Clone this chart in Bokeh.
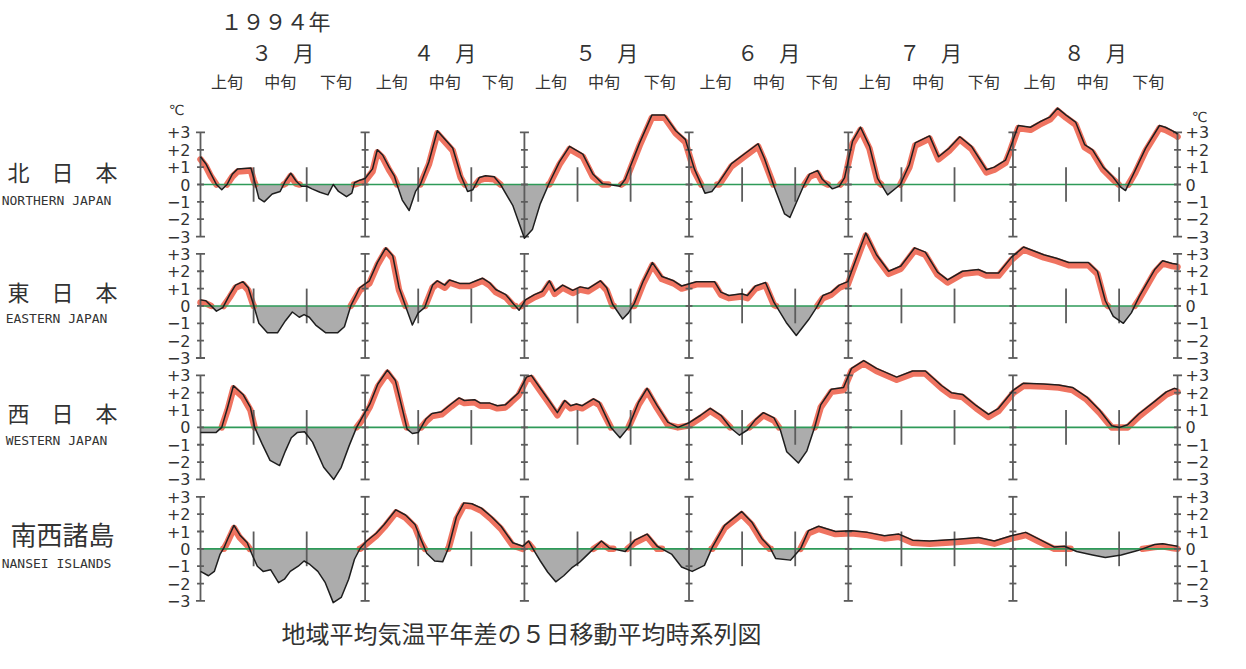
import numpy as np
from bokeh.plotting import figure
from bokeh.models import Range1d
from bokeh.core.properties import value
from bokeh.embed import file_html
from bokeh.resources import INLINE

# ---------------- data ----------------
year_label = "１９９４年"
months = ["３　月", "４　月", "５　月", "６　月", "７　月", "８　月"]
month_days = [31, 30, 31, 30, 31, 31]
dekads = ["上旬", "中旬", "下旬"]
regions_ja = ["北　日　本", "東　日　本", "西　日　本", "南西諸島"]
regions_en = ["NORTHERN JAPAN", "EASTERN JAPAN", "WESTERN JAPAN", "NANSEI ISLANDS"]
y_ticks = [3, 2, 1, 0, -1, -2, -3]
y_tick_labels = ["+3", "+2", "+1", "0", "−1", "−2", "−3"]
unit_label = "℃"
caption = "地域平均気温平年差の５日移動平均時系列図"

# day index from 1 March (0) to 31 August (184), temperature anomaly (deg C)
north_day = [0, 1, 2, 3, 4, 5, 6, 7, 9.5, 10, 11, 12, 13.5, 15, 16, 17, 18, 19, 20, 21,
             22.5, 24, 25, 26, 27.5, 28.5, 29, 30, 31, 32.4, 33.3, 34.3, 35.5, 36.5, 37, 38,
             39.3, 40.5, 41.4, 43, 44.6, 47.5, 49, 50.3, 51.3, 52.5, 53.7, 55.3, 56.5, 58.8,
             61, 62.5, 64, 65.7, 67.6, 69.5, 72, 73.9, 75.7, 79, 80, 82.7, 85, 87.4, 89.5,
             91.3, 93, 95, 96.3, 97.7, 100, 102.6, 105, 106.2, 108, 110, 111, 113.4, 114.7,
             116.2, 117.1, 119, 120.3, 121.3, 122.8, 124.3, 126, 127.5, 129.4, 131.8, 133.5,
             134.6, 137.3, 139, 141, 143, 145.2, 148, 149.5, 151.6, 152.5, 154, 156.3, 158,
             160, 161.4, 163, 164.8, 166.5, 168, 170, 171.8, 173.3, 174.2, 176, 178, 180.6,
             181.7, 183.6, 184]
north_val = [1.6, 1.2, 0.6, 0.0, -0.3, 0.0, 0.6, 0.9, 0.95, 0.4, -0.8, -1.0, -0.55, -0.4,
             0.2, 0.65, 0.2, -0.1, -0.1, -0.25, -0.45, -0.6, 0.0, -0.4, -0.7, -0.5, 0.1, 0.25,
             0.35, 0.9, 2.0, 1.7, 1.0, 0.5, 0.0, -0.9, -1.5, -0.4, 0.0, 1.3, 3.1, 2.1, 0.55,
             -0.4, -0.3, 0.4, 0.5, 0.45, 0.0, -1.2, -3.1, -2.6, -1.1, 0.1, 1.3, 2.2, 1.75, 0.6,
             0.05, -0.1, 0.3, 2.4, 4.0, 4.0, 3.1, 2.6, 0.9, -0.5, -0.4, 0.15, 1.2, 1.8, 2.35,
             1.5, -0.1, -1.7, -1.9, -0.2, 0.6, 0.8, 0.3, -0.25, -0.1, 0.4, 2.5, 3.3, 2.2, 0.35,
             -0.6, 0.0, 1.15, 2.4, 2.8, 1.6, 2.1, 2.75, 2.2, 0.85, 1.0, 1.4, 2.1, 3.4, 3.3, 3.6,
             3.9, 4.4, 4.0, 3.6, 2.3, 2.0, 1.0, 0.45, -0.15, -0.35, 0.8, 2.1, 3.4, 3.3, 3.0, 2.9]

east_day = [0, 1, 3, 4.2, 5.5, 6.6, 8, 9, 10, 11, 12.6, 14.5, 16, 17.3, 18.6, 19.5, 20.5, 21.7,
            23.6, 25.8, 27.1, 28.3, 30, 31.8, 33.3, 34.9, 36.2, 37.4, 38.6, 39.9, 41, 42.2,
            43.7, 44.6, 46, 46.9, 48.8, 50.7, 51.9, 53.1, 54.4, 55.6, 57.5, 59, 60, 61.2, 62.9,
            64.4, 65.7, 66.7, 68.2, 70.1, 71.5, 73, 75.3, 76.5, 77.6, 79.5, 80.6, 81.7, 83.4,
            85.1, 86.9, 89.1, 90.6, 93.4, 96.8, 98, 99.5, 101.9, 103, 104.5, 106.4, 108, 110.3,
            112.2, 114.5, 116, 117.2, 118.8, 120.3, 121.9, 123.4, 125.3, 127.3, 129.6, 131.9,
            134.5, 136.5, 138.8, 140.7, 143.5, 146.5, 148, 150.3, 152.7, 155, 158.8, 161.2,
            163.5, 167.2, 168.9, 170.4, 171.9, 173.8, 175.3, 176.8, 179.7, 181.2, 183, 184]
east_val = [0.35, 0.3, -0.3, -0.1, 0.65, 1.2, 1.4, 1.05, 0.05, -1.0, -1.55, -1.55, -0.85, -0.35,
            -0.65, -0.5, -0.65, -1.1, -1.55, -1.55, -1.2, 0.0, 1.05, 1.45, 2.5, 3.35, 2.9, 1.05,
            0.0, -1.1, -0.4, -0.1, 1.2, 1.45, 1.2, 1.5, 1.3, 1.3, 1.45, 1.6, 1.35, 0.95, 0.65,
            0.1, -0.25, 0.35, 0.65, 0.85, 1.45, 0.85, 1.2, 0.9, 1.1, 1.0, 1.45, 1.05, 0.1, -0.75,
            -0.4, 0.15, 1.45, 2.5, 1.7, 1.45, 1.15, 1.4, 1.4, 0.8, 0.6, 0.7, 0.6, 1.15, 1.35, 0.2,
            -0.95, -1.7, -0.8, -0.1, 0.6, 0.8, 1.2, 1.4, 2.65, 4.2, 2.95, 2.0, 2.3, 3.35, 3.1,
            1.95, 1.5, 2.0, 2.1, 1.9, 1.9, 2.8, 3.4, 2.95, 2.75, 2.5, 2.5, 2.0, 0.3, -0.6, -1.0,
            -0.4, 0.55, 2.1, 2.6, 2.45, 2.4]

west_day = [0, 2.9, 4, 5.1, 6.2, 8, 9.4, 10.2, 11.6, 13.1, 14.9, 16, 17.1, 18.2, 19.6, 21.1,
            23.2, 25.1, 26.5, 28, 29.4, 30.5, 31.9, 33.4, 35.2, 36.7, 38.1, 38.9, 39.9, 41,
            42.5, 43.6, 45.4, 47.2, 48.7, 49.7, 51.6, 52.7, 54.5, 55.9, 57.4, 58.5, 59.9, 61.4,
            62.3, 63.9, 65.4, 67.2, 68.6, 69.7, 70.8, 71.9, 74, 75.1, 77.3, 79, 80.6, 82.5,
            84.1, 86, 88, 89.9, 91.9, 94.2, 96, 98, 99.9, 101.5, 103, 104.5, 106, 108, 109.2,
            110.4, 112.6, 114.2, 115.7, 116.8, 118.8, 121.1, 122.6, 124.9, 127.3, 131.1, 134.1,
            136.5, 139.6, 141.4, 143.5, 146.1, 148.4, 150.3, 153.1, 155, 158.8, 161.6, 164.2,
            166.9, 169.3, 171.6, 173.1, 174.6, 176.8, 179.7, 181.9, 183.4, 184]
west_val = [-0.3, -0.3, 0.0, 1.15, 2.4, 1.9, 1.15, 0.0, -0.95, -1.9, -2.2, -1.35, -0.6, -0.3,
            -0.25, -0.85, -2.3, -3.0, -2.3, -1.05, 0.0, 0.6, 1.35, 2.5, 3.3, 2.7, 0.95, -0.1,
            -0.35, -0.3, 0.5, 0.8, 0.9, 1.35, 1.7, 1.55, 1.6, 1.4, 1.4, 1.25, 1.3, 1.6, 2.0,
            2.9, 3.0, 2.3, 1.65, 0.85, 1.55, 1.25, 1.35, 1.25, 1.65, 1.45, 0.0, -0.6, 0.0, 1.45,
            2.25, 1.25, 0.3, 0.0, 0.25, 0.7, 1.1, 0.7, -0.05, -0.45, -0.15, 0.45, 0.85, 0.55,
            -0.15, -1.4, -2.05, -1.35, 0.05, 1.3, 2.2, 2.3, 3.4, 3.85, 3.4, 2.9, 3.25, 3.25, 2.4,
            2.0, 1.9, 1.25, 0.75, 1.1, 2.15, 2.55, 2.5, 2.45, 2.3, 1.75, 1.0, 0.1, 0.0, 0.15,
            0.8, 1.5, 2.05, 2.25, 2.2]

nansei_day = [0, 1.5, 2.6, 3.7, 4.4, 5.1, 6.3, 7.4, 8.8, 9.6, 10.7, 11.8, 13.2, 14.7, 15.8,
              16.9, 18.4, 19.5, 20.6, 22.1, 23.5, 25, 26.5, 27.9, 29, 30.1, 31.3, 33.1, 34.6,
              36.8, 38.6, 40.4, 41.5, 42.6, 44.1, 45.6, 46.7, 48.2, 49.6, 51.1, 52.9, 54.8,
              56.6, 58.8, 60.7, 61.8, 62.9, 64, 65.4, 66.9, 68.4, 69.9, 71.3, 72.5, 74, 75.5,
              77, 78.5, 80, 81.8, 84.1, 86, 88.7, 90.6, 92.6, 94.9, 96.4, 98.7, 101.9, 103.8,
              105.7, 107.2, 108.3, 111.1, 113, 114.5, 116.4, 119.6, 122.6, 125.6, 128.8, 131.5,
              134.1, 137.3, 142.6, 146.5, 149.5, 152.7, 155.4, 158, 160.8, 162.7, 165, 168,
              170.4, 173.4, 176.5, 179.7, 181.2, 183, 184]
nansei_val = [-1.3, -1.55, -1.3, -0.3, 0.05, 0.55, 1.35, 0.8, 0.35, -0.25, -1.0, -1.3, -1.2,
              -1.95, -1.75, -1.3, -1.0, -0.7, -0.9, -1.3, -1.95, -3.1, -2.8, -1.75, -0.6, 0.05,
              0.45, 0.9, 1.4, 2.25, 1.95, 1.4, 0.55, -0.25, -0.7, -0.75, 0.05, 1.85, 2.65, 2.6,
              2.35, 1.85, 1.3, 0.35, 0.15, 0.45, -0.15, -0.7, -1.35, -1.9, -1.55, -1.1, -0.8,
              -0.45, 0.0, 0.45, 0.05, -0.05, -0.15, 0.5, 0.85, 0.15, -0.3, -1.05, -1.3, -0.95,
              0.1, 1.35, 2.15, 1.55, 0.6, 0.1, -0.55, -0.65, 0.0, 1.05, 1.3, 1.0, 1.05, 0.95,
              0.75, 0.85, 0.5, 0.45, 0.55, 0.65, 0.45, 0.75, 0.95, 0.55, 0.1, 0.15, -0.15, -0.35,
              -0.5, -0.35, -0.1, 0.25, 0.3, 0.2, 0.15]

series_days = [north_day, east_day, west_day, nansei_day]
series_vals = [north_val, east_val, west_val, nansei_val]

# ---------------- layout ----------------
W, H = 1230, 653
PX_DAY = 5.31          # pixels per day
X0_PX = 200            # canvas x of 1 March
PX_UNIT = 17.35        # pixels per deg C
Y0_PX = 184            # canvas y of zero line of first panel
STEP = 7.0             # panel spacing in deg C units

y_top = Y0_PX / PX_UNIT
x_lo = -X0_PX / PX_DAY


def fx(page_x):
    return x_lo + (page_x - 8) / PX_DAY


def fy(page_y):
    return y_top - (page_y - 8) / PX_UNIT


p = figure(width=W, height=H, output_backend="svg", toolbar_location=None,
           x_range=Range1d(x_lo, x_lo + W / PX_DAY),
           y_range=Range1d(y_top - H / PX_UNIT, y_top),
           min_border=0, background_fill_color="white", border_fill_color="white")
p.axis.visible = False
p.grid.visible = False
p.outline_line_color = None

starts = list(np.cumsum([0] + month_days))
total = starts[-1]

JP = value("Noto Sans CJK JP")
TXT = "#333333"
AX = "#5c5c5c"


def with_crossings(d, v):
    xs, ys = [d[0]], [v[0]]
    for i in range(1, len(d)):
        a, b = v[i - 1], v[i]
        if a * b < 0:
            t = a / (a - b)
            xs.append(d[i - 1] + t * (d[i] - d[i - 1]))
            ys.append(0.0)
        xs.append(d[i])
        ys.append(b)
    return np.array(xs, float), np.array(ys, float)


for k in range(4):
    off = -STEP * k
    d = np.array(series_days[k], float)
    v = np.array(series_vals[k], float)
    xs, ys = with_crossings(d, v)
    # negative area, gray
    p.varea(x=xs, y1=off + np.minimum(ys, 0), y2=off, fill_color="#a8a8a8", fill_alpha=0.95)
    # positive area, red marker band under the curve
    yr = np.where(ys >= 0, np.maximum(ys - 0.15, 0), np.nan)
    p.line(xs, off + yr, line_width=6.5, line_color="#ec5a44", line_alpha=0.85,
           line_join="round", line_cap="round")

    # zero line
    p.segment(x0=[0], y0=[off], x1=[total], y1=[off], line_color="#2e9a58", line_width=1.6)

    # month boundary axes
    vx0, vy0, vx1, vy1 = [], [], [], []
    for s in starts:
        vx0.append(s); vy0.append(off - 3); vx1.append(s); vy1.append(off + 3)
        for t in y_ticks:
            hl = 0.85 if abs(t) == 3 else 0.65
            vx0.append(s - hl); vy0.append(off + t); vx1.append(s + hl); vy1.append(off + t)
    # dekad ticks
    for s in starts[:-1]:
        for dd in (10, 20):
            vx0.append(s + dd); vy0.append(off - 1); vx1.append(s + dd); vy1.append(off + 1)
    p.segment(x0=vx0, y0=vy0, x1=vx1, y1=vy1, line_color=AX, line_width=1.8)

    # curve
    p.line(d, off + v, line_color="#1e1e1e", line_width=1.5, line_join="round")

    # tick labels left and right
    p.text(x=[-10 / PX_DAY] * len(y_ticks), y=[off + t for t in y_ticks], text=y_tick_labels,
           text_align="right", text_baseline="middle", text_font=value("DejaVu Sans"),
           text_font_size="16px", text_color=TXT)
    p.text(x=[total + 8 / PX_DAY] * len(y_ticks), y=[off + t for t in y_ticks],
           text=y_tick_labels, text_align="left", text_baseline="middle",
           text_font=value("DejaVu Sans"), text_font_size="16px", text_color=TXT)

# unit labels
p.text(x=[-24 / PX_DAY, total + 22 / PX_DAY], y=[4.3, 3.9], text=[unit_label, unit_label],
       text_align="center", text_baseline="middle", text_font=value("DejaVu Sans"),
       text_font_size="14px", text_color=TXT)

# region labels
ja_y = [178, 298, 419, 541]
en_y = [208, 326, 448, 571]
ja_size = ["22px", "22px", "22px", "26px"]
for k in range(4):
    p.text(x=[fx(70)], y=[fy(ja_y[k])], text=[regions_ja[k]], text_align="center",
           text_baseline="middle", text_font=JP, text_font_size=ja_size[k], text_color=TXT)
    p.text(x=[fx(64)], y=[fy(en_y[k])], text=[regions_en[k]], text_align="center",
           text_baseline="middle", text_font=value("DejaVu Sans Mono"),
           text_font_size="13px", text_color=TXT)

# header
p.text(x=[fx(228)], y=[fy(27)], text=[year_label], text_align="left", text_baseline="middle",
       text_font=JP, text_font_size="22px", text_color=TXT)
mid = [starts[i] + month_days[i] / 2 for i in range(6)]
p.text(x=mid, y=[fy(59)] * 6, text=months, text_align="center", text_baseline="middle",
       text_font=JP, text_font_size="21px", text_color=TXT)
dx, dt = [], []
for i in range(6):
    s = starts[i]
    dx += [s + 5, s + 15, s + (20 + month_days[i]) / 2]
    dt += dekads
p.text(x=dx, y=[fy(88)] * len(dx), text=dt, text_align="center", text_baseline="middle",
       text_font=JP, text_font_size="16px", text_color=TXT)

# caption
p.text(x=[fx(529)], y=[fy(640)], text=[caption], text_align="center", text_baseline="middle",
       text_font=JP, text_font_size="24px", text_color=TXT)

open("out.html", "w").write(file_html(p, INLINE))
